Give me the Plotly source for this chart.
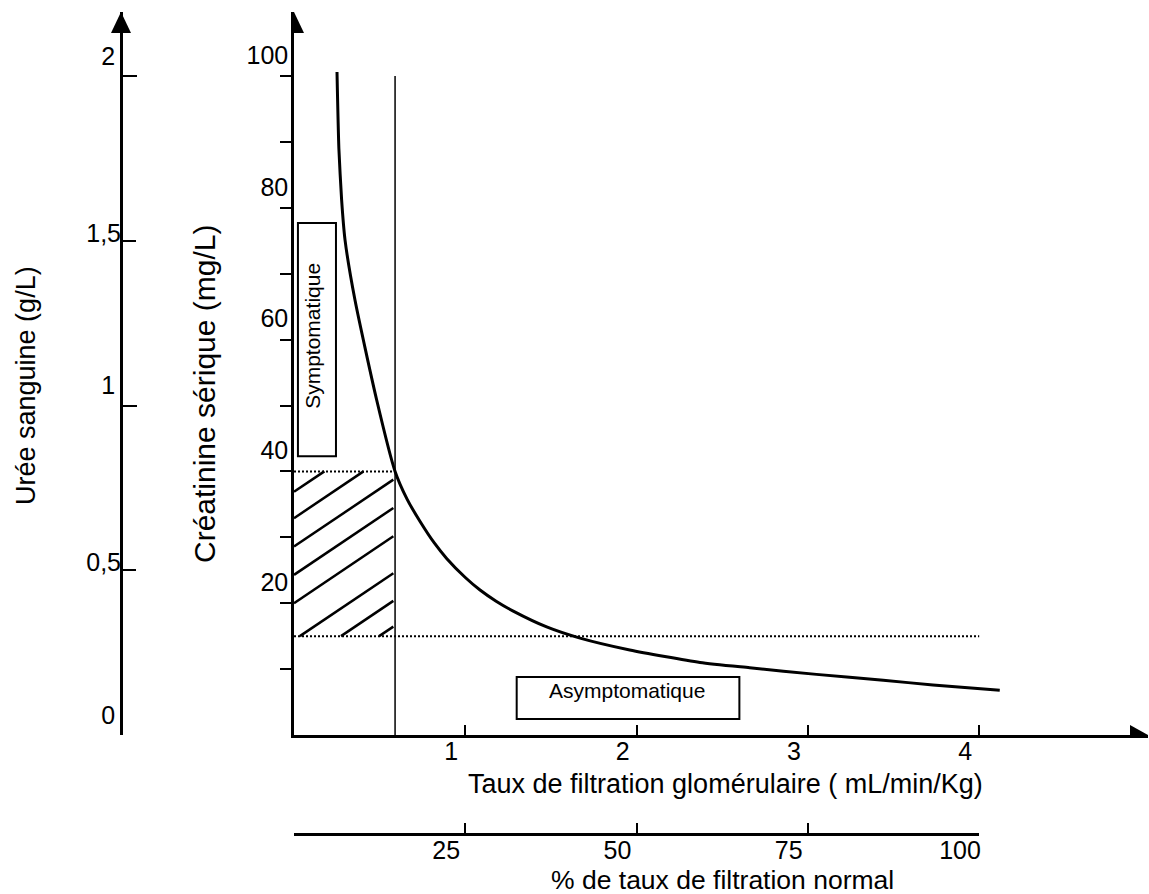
import plotly.graph_objects as go

# ---------------- data ----------------
# curve: serum creatinine (mg/L) vs glomerular filtration rate (mL/min/Kg)
gfr_curve = [0.251, 0.262, 0.278, 0.298, 0.356, 0.483, 0.59, 0.66, 0.736, 0.82,
             0.891, 1.0, 1.086, 1.18, 1.28, 1.475, 1.67, 1.96, 2.37, 2.66,
             3.05, 3.44, 3.73, 4.12]
creat_curve = [100.6, 89.0, 81.2, 75.1, 66.0, 50.8, 40.0, 35.8, 32.4, 29.1,
               26.8, 23.9, 22.0, 20.3, 18.8, 16.4, 14.7, 12.9, 11.0, 10.2,
               9.2, 8.3, 7.6, 6.8]

gfr_threshold = 0.59      # vertical line
creat_symptom = 40        # upper dotted line
creat_normal = 15         # lower dotted line
normal_line_end = 4.0     # end of lower dotted line
vertical_top = 100

# hatch lines (y = slope * x + intercept), clipped to the hatched area
hatch_slope = 17.5
hatch_intercepts = [36.9, 32.9, 28.6, 24.3, 20.0, 14.4, 10.2, 6.3]
hatch_right = 0.58

# boxes  (x0, x1, y0, y1) in data units
symp_box = [0.023, 0.245, 42.3, 77.7]
asymp_box = [1.30, 2.60, 2.43, 8.8]
symp_label = "Symptomatique"
asymp_label = "Asymptomatique"

# ticks
gfr_ticks = [1, 2, 3, 4]
gfr_ticktext = ["1", "2", "3", "4"]
creat_ticks = [10, 20, 30, 40, 50, 60, 70, 80, 90, 100]
creat_ticktext = ["", "20", "", "40", "", "60", "", "80", "", "100"]
urea_ticks_a = [0, 1, 2]
urea_ticktext_a = ["0", "1", "2"]
urea_ticks_b = [0.5, 1.5]
urea_ticktext_b = ["0,5", "1,5"]
pct_ticks = [0, 25, 50, 75, 100]
pct_ticktext = ["", "25", "50", "75", "100"]

x_title = "Taux de filtration glomérulaire ( mL/min/Kg)"
pct_title = "% de taux de filtration normal"
creat_title = "Créatinine sérique (mg/L)"
urea_title = "Urée sanguine (g/L)"

# ---------------- layout geometry (pixels) ----------------
W, H = 1149, 894
X0, X1 = 294, 1148          # main x axis pixel span
Y0, Y1 = 735, 12            # main y axis pixel span (bottom, top)
px_per_gfr = 171.3
px_per_creat = 6.59
gfr_max = (X1 - X0) / px_per_gfr
creat_max = (Y0 - Y1) / px_per_creat
urea_max = creat_max / 50.0
PCT_X1 = 979
PCT_Y = 834
UREA_X = 121

FONT = "Liberation Sans, Arial, sans-serif"
BLACK = "black"

fig = go.Figure()

fig.add_trace(go.Scatter(x=gfr_curve, y=creat_curve, mode="lines",
                         line=dict(color=BLACK, width=3, shape="spline", smoothing=0.6),
                         hoverinfo="skip", showlegend=False))

hx, hy = [], []
for c in hatch_intercepts:
    xs = max(0.0, (creat_normal - c) / hatch_slope)
    xe = min(hatch_right, (creat_symptom - c) / hatch_slope)
    hx += [xs, xe, None]
    hy += [hatch_slope * xs + c, hatch_slope * xe + c, None]
fig.add_trace(go.Scatter(x=hx, y=hy, mode="lines", line=dict(color=BLACK, width=2.5),
                         hoverinfo="skip", showlegend=False))

fig.add_trace(go.Scatter(x=[gfr_threshold, gfr_threshold], y=[0, vertical_top], mode="lines",
                         line=dict(color=BLACK, width=1.5), hoverinfo="skip", showlegend=False))
fig.add_trace(go.Scatter(x=[0, gfr_threshold], y=[creat_symptom, creat_symptom], mode="lines",
                         line=dict(color=BLACK, width=2, dash="2px,2px"),
                         hoverinfo="skip", showlegend=False))
fig.add_trace(go.Scatter(x=[0, normal_line_end], y=[creat_normal, creat_normal], mode="lines",
                         line=dict(color=BLACK, width=2, dash="2px,2px"),
                         hoverinfo="skip", showlegend=False))

# dummy traces so that the extra axes are drawn
fig.add_trace(go.Scatter(x=[None], y=[None], xaxis="x2", yaxis="y", showlegend=False))
fig.add_trace(go.Scatter(x=[None], y=[None], xaxis="x", yaxis="y2", showlegend=False))
fig.add_trace(go.Scatter(x=[None], y=[None], xaxis="x", yaxis="y3", showlegend=False))

tickfont = dict(family=FONT, size=25, color=BLACK)
common = dict(showgrid=False, zeroline=False, fixedrange=True, tickcolor=BLACK,
              linecolor=BLACK, tickfont=tickfont)

ydom = [(H - Y0) / H, (H - Y1) / H]

fig.update_layout(
    width=W, height=H, margin=dict(l=0, r=0, t=0, b=0, pad=0, autoexpand=False),
    paper_bgcolor="white", plot_bgcolor="rgba(0,0,0,0)",
    showlegend=False, hovermode=False,
    xaxis=dict(domain=[X0 / W, X1 / W], range=[0, gfr_max], anchor="y",
               showline=True, linewidth=2.5, ticks="inside", ticklen=10, tickwidth=2,
               tickvals=gfr_ticks, ticktext=gfr_ticktext,
               ticklabelshift=-14, ticklabelstandoff=-8, **common),
    xaxis2=dict(domain=[X0 / W, PCT_X1 / W], range=[0, 100], anchor="free",
                position=(H - PCT_Y) / H,
                showline=True, linewidth=2.5, ticks="inside", ticklen=10, tickwidth=2,
                tickvals=pct_ticks, ticktext=pct_ticktext,
                ticklabelshift=-19, ticklabelstandoff=-7, **common),
    yaxis=dict(domain=ydom, range=[0, creat_max], anchor="x",
               showline=True, linewidth=2.5, ticks="outside", ticklen=11, tickwidth=2,
               tickvals=creat_ticks, ticktext=creat_ticktext,
               ticklabelshift=-21, ticklabelstandoff=-13, **common),
    yaxis2=dict(domain=ydom, range=[0, urea_max], overlaying="y", anchor="free",
                position=UREA_X / W, side="left",
                showline=True, linewidth=2.5, ticks="inside", ticklen=14, tickwidth=2,
                tickvals=urea_ticks_a, ticktext=urea_ticktext_a,
                ticklabelshift=-20, ticklabelstandoff=0, **common),
    yaxis3=dict(domain=ydom, range=[0, urea_max], overlaying="y", anchor="free",
                position=UREA_X / W, side="left",
                showline=False, ticks="inside", ticklen=14, tickwidth=2,
                tickvals=urea_ticks_b, ticktext=urea_ticktext_b,
                ticklabelshift=-8, ticklabelstandoff=0, **common),
)

shapes = []
# boxes
shapes.append(dict(type="rect", xref="x", yref="y", x0=symp_box[0], x1=symp_box[1],
                   y0=symp_box[2], y1=symp_box[3], line=dict(color=BLACK, width=2)))
shapes.append(dict(type="rect", xref="x", yref="y", x0=asymp_box[0], x1=asymp_box[1],
                   y0=asymp_box[2], y1=asymp_box[3], line=dict(color=BLACK, width=2)))
# arrow heads
shapes.append(dict(type="path", xref="x", yref="y", xsizemode="pixel", ysizemode="pixel",
                   xanchor=0, yanchor=creat_max, path="M -10,-21 L 0,0 L 10,-21 Z",
                   fillcolor=BLACK, line=dict(width=0), layer="above"))
shapes.append(dict(type="path", xref="paper", yref="y2", xsizemode="pixel", ysizemode="pixel",
                   xanchor=UREA_X / W, yanchor=urea_max, path="M -10,-21 L 0,0 L 10,-21 Z",
                   fillcolor=BLACK, line=dict(width=0), layer="above"))
shapes.append(dict(type="path", xref="x", yref="y", xsizemode="pixel", ysizemode="pixel",
                   xanchor=gfr_max, yanchor=0, path="M -18,-10 L 0,0 L -18,10 Z",
                   fillcolor=BLACK, line=dict(width=0), layer="above"))
fig.update_layout(shapes=shapes)

def text_ann(text, x, y, size, xref="paper", yref="paper", angle=0):
    return dict(text=text, xref=xref, yref=yref, x=x, y=y, xanchor="center",
                yanchor="middle", textangle=angle, showarrow=False,
                font=dict(family=FONT, size=size, color=BLACK))

ann = [
    text_ann(symp_label, (symp_box[0] + symp_box[1]) / 2 - 0.03, (Y0 - 336) / px_per_creat,
             21, "x", "y", -90),
    text_ann(asymp_label, (asymp_box[0] + asymp_box[1]) / 2 - 0.005, (Y0 - 690) / px_per_creat,
             21, "x", "y"),
    text_ann(x_title, 725 / W, 1 - 784 / H, 27),
    text_ann(pct_title, 722 / W, 1 - 880 / H, 26.5),
    text_ann(creat_title, 204 / W, 1 - 394 / H, 30, angle=-90),
    text_ann(urea_title, 26 / W, 1 - 386 / H, 27, angle=-90),
]
fig.update_layout(annotations=ann)

fig.write_html("out.html", config={"displayModeBar": False},
               post_script="document.body.style.margin='0';")
